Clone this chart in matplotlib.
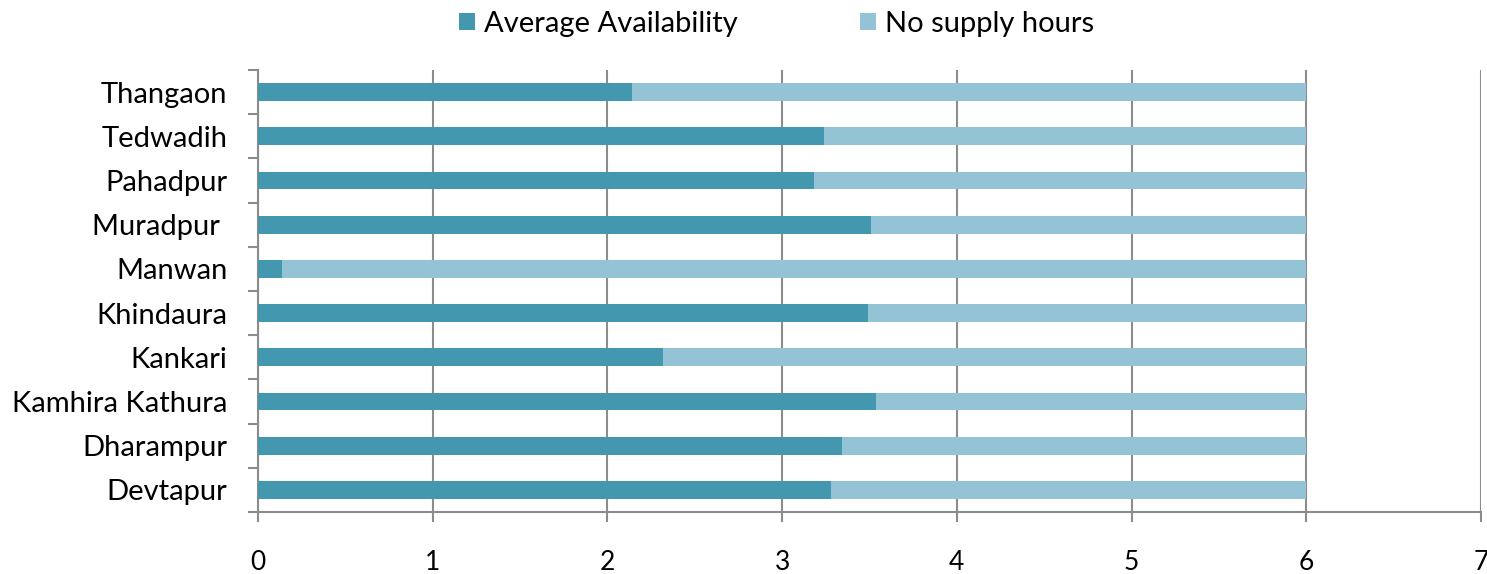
import numpy as np
import matplotlib.pyplot as plt

# villages, bottom to top as drawn
villages = ["Devtapur", "Dharampur", "Kamhira Kathura", "Kankari", "Khindaura",
            "Manwan", "Muradpur ", "Pahadpur", "Tedwadih", "Thangaon"]
avg_availability = [3.28, 3.34, 3.54, 2.32, 3.49, 0.14, 3.51, 3.18, 3.24, 2.14]
no_supply = [6 - v for v in avg_availability]
x_ticks = [0, 1, 2, 3, 4, 5, 6, 7]

dark = "#4398B0"
light = "#93C3D5"
grid_col = "#8C8C8C"
fs = 21

plt.rcParams["font.family"] = ["Lato", "DejaVu Sans"]

fig = plt.figure(figsize=(14.87, 5.74), dpi=100)
ax = fig.add_axes([258 / 1487, 1 - 512 / 574, (1481 - 258) / 1487, (512 - 70) / 574])

y = np.arange(len(villages))
ax.barh(y, avg_availability, height=0.4, color=dark, label="Average Availability", zorder=3)
ax.barh(y, no_supply, left=avg_availability, height=0.4, color=light,
        label="No supply hours", zorder=3)

ax.set_xlim(0, 7)
ax.set_ylim(-0.5, len(villages) - 0.5)
ax.set_xticks(x_ticks)
ax.set_xticklabels([str(t) for t in x_ticks], fontsize=19)
ax.set_yticks(y)
ax.set_yticklabels(villages, fontsize=fs)
ax.set_yticks(np.arange(len(villages) + 1) - 0.5, minor=True)

ax.grid(axis="x", color=grid_col, linewidth=1.5, zorder=0)
ax.tick_params(axis="y", which="major", length=0, pad=22)
ax.tick_params(axis="y", which="minor", length=7, width=1.5, color=grid_col)
ax.tick_params(axis="x", length=7, width=1.5, color=grid_col, pad=20)

for s in ["top", "right"]:
    ax.spines[s].set_visible(False)
for s in ["left", "bottom"]:
    ax.spines[s].set_color(grid_col)
    ax.spines[s].set_linewidth(1.5)

fig.legend(loc="center", bbox_to_anchor=(0.522, 1 - 24 / 574), ncol=2, frameon=False,
           fontsize=fs, handlelength=0.55, handleheight=0.55, handletextpad=0.3,
           columnspacing=4.2, borderpad=0)

fig.savefig("out.png", dpi=100)
